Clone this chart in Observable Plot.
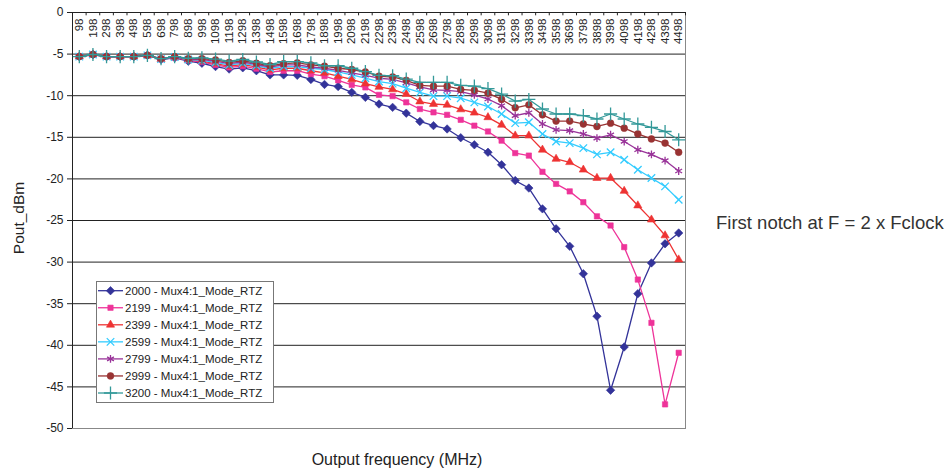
<!DOCTYPE html>
<html>
<head>
<meta charset="utf-8">
<script src="https://cdn.jsdelivr.net/npm/d3@7"></script>
<script src="https://cdn.jsdelivr.net/npm/@observablehq/plot@0.6"></script>
<style>
  html, body { margin: 0; padding: 0; background: #fff; }
  #chart { width: 948px; height: 472px; }
  svg { font-family: "Liberation Sans", Arial, Helvetica, sans-serif; }
</style>
</head>
<body>
<div id="chart"></div>
<script>
// ---- data ----
const freqLabels = ["98","198","298","398","498","598","698","798","898","998",
  "1098","1198","1298","1398","1498","1598","1698","1798","1898","1998",
  "2098","2198","2298","2398","2498","2598","2698","2798","2898","2998",
  "3098","3198","3298","3398","3498","3598","3698","3798","3898","3998",
  "4098","4198","4298","4398","4498"];

const yTicks = [0,-5,-10,-15,-20,-25,-30,-35,-40,-45,-50];

const seriesNames = [
  "2000 - Mux4:1_Mode_RTZ",
  "2199 - Mux4:1_Mode_RTZ",
  "2399 - Mux4:1_Mode_RTZ",
  "2599 - Mux4:1_Mode_RTZ",
  "2799 - Mux4:1_Mode_RTZ",
  "2999 - Mux4:1_Mode_RTZ",
  "3200 - Mux4:1_Mode_RTZ"
];
const seriesColors = ["#333399","#EE3399","#EE3333","#33CCFF","#993399","#993333","#339999"];
const seriesSymbols = ["diamond2","square2","triangle2","times","asterisk","circle","plus"];

const s2000 = [-5.3,-5.05,-5.3,-5.3,-5.3,-5.15,-5.65,-5.45,-5.85,-6.1,
  -6.5,-6.8,-6.65,-7.0,-7.5,-7.5,-7.55,-8.05,-8.65,-8.9,
  -9.6,-10.2,-11.0,-11.4,-12.1,-13.1,-13.6,-14.0,-15.05,-15.9,
  -16.8,-18.3,-20.2,-21.1,-23.6,-26.0,-28.1,-31.4,-36.5,-45.4,
  -40.2,-33.8,-30.1,-27.8,-26.5];
const s2199 = [-5.3,-5.05,-5.3,-5.3,-5.3,-5.15,-5.6,-5.4,-5.75,-5.95,
  -6.3,-6.6,-6.45,-6.75,-7.15,-7.0,-7.0,-7.4,-7.65,-8.15,
  -8.7,-9.0,-9.9,-10.05,-10.8,-11.6,-12.0,-12.3,-12.9,-13.6,
  -14.3,-15.4,-16.9,-17.2,-19.15,-20.6,-21.5,-22.8,-24.5,-25.6,
  -28.2,-32.1,-37.3,-47.1,-40.9];
const s2399 = [-5.3,-5.05,-5.3,-5.3,-5.3,-5.15,-5.6,-5.4,-5.7,-5.85,
  -6.15,-6.45,-6.25,-6.55,-6.9,-6.7,-6.7,-7.0,-7.25,-7.65,
  -8.05,-8.55,-8.95,-9.25,-9.8,-10.7,-11.0,-11.1,-11.65,-12.05,
  -12.6,-13.5,-14.8,-14.8,-16.5,-17.6,-18.0,-18.9,-19.9,-19.9,
  -21.45,-23.2,-24.9,-26.8,-29.7];
const s2599 = [-5.3,-5.05,-5.3,-5.3,-5.3,-5.15,-5.6,-5.35,-5.65,-5.75,
  -6.0,-6.3,-6.1,-6.4,-6.7,-6.5,-6.5,-6.7,-6.85,-7.15,
  -7.5,-7.9,-8.3,-8.55,-9.1,-9.6,-10.05,-10.05,-10.3,-10.8,
  -11.3,-12.2,-13.3,-13.2,-14.6,-15.5,-15.7,-16.3,-17.05,-16.8,
  -17.7,-18.9,-19.9,-20.9,-22.5];
const s2799 = [-5.3,-5.05,-5.3,-5.3,-5.3,-5.15,-5.55,-5.35,-5.6,-5.65,
  -5.85,-6.15,-5.95,-6.25,-6.55,-6.3,-6.3,-6.55,-6.7,-6.95,
  -7.25,-7.55,-7.9,-8.05,-8.45,-8.95,-9.3,-9.35,-9.5,-9.9,
  -10.4,-11.2,-12.4,-12.05,-13.4,-14.1,-14.2,-14.6,-15.1,-14.7,
  -15.5,-16.5,-17.05,-17.8,-19.05];
const s2999 = [-5.3,-5.05,-5.3,-5.3,-5.3,-5.15,-5.55,-5.3,-5.55,-5.55,
  -5.7,-6.0,-5.8,-6.1,-6.4,-6.15,-6.05,-6.3,-6.45,-6.7,
  -6.85,-7.15,-7.65,-7.75,-8.15,-8.75,-8.85,-8.85,-9.25,-9.35,
  -9.7,-10.45,-11.45,-11.1,-12.3,-13.05,-13.05,-13.4,-13.7,-13.3,
  -13.9,-14.6,-15.2,-15.7,-16.8];
const s3200 = [-5.3,-5.05,-5.3,-5.3,-5.3,-5.15,-5.55,-5.3,-5.5,-5.45,
  -5.6,-5.85,-5.65,-5.95,-6.25,-5.9,-5.9,-6.05,-6.4,-6.4,
  -6.7,-7.1,-7.55,-7.6,-8.0,-8.4,-8.4,-8.4,-8.75,-8.85,
  -9.15,-9.8,-10.65,-10.45,-11.6,-12.2,-12.2,-12.4,-12.8,-12.2,
  -12.8,-13.4,-13.8,-14.3,-15.3];

const seriesValues = [s2000, s2199, s2399, s2599, s2799, s2999, s3200];

const titleX = "Output frequency (MHz)";
const titleY = "Pout_dBm";
const note = "First notch at F = 2 x Fclock";

// ---- build table ----
const rows = [];
seriesNames.forEach((name, si) => {
  seriesValues[si].forEach((v, i) => rows.push({series: name, f: freqLabels[i], v}));
});

// ---- layout ----
const W = 948, H = 472;
const mL = 72, mR = W - 685, mT = 12, mB = H - 428;
const step = (W - mL - mR) / freqLabels.length;
const fontFam = '"Liberation Sans", Arial, Helvetica, sans-serif';

const strokeSym = new Set(["times","asterisk","plus"]);
const symbolSize = {diamond2: 3.8, square2: 3.4, triangle2: 3.9, times: 3.5, asterisk: 3.7, circle: 3.4, plus: 4.3};

const seriesMarks = [];
seriesNames.forEach((name, si) => {
  const data = rows.filter(d => d.series === name);
  seriesMarks.push(Plot.line(data, {x: "f", y: "v", stroke: seriesColors[si], strokeWidth: 1.3}));
});
seriesNames.forEach((name, si) => {
  const data = rows.filter(d => d.series === name);
  const sym = seriesSymbols[si];
  const isStroke = strokeSym.has(sym);
  seriesMarks.push(Plot.dot(data, {
    x: "f", y: "v", symbol: () => sym, r: symbolSize[sym],
    fill: isStroke ? "none" : seriesColors[si],
    stroke: seriesColors[si],
    strokeWidth: isStroke ? 1.3 : 0.6
  }));
});

const chart = Plot.plot({
  width: W, height: H,
  marginLeft: mL, marginRight: mR, marginTop: mT, marginBottom: mB,
  style: {fontFamily: fontFam, fontSize: "11px", background: "#fff", color: "#222", overflow: "visible"},
  x: {type: "band", domain: freqLabels, padding: 0, round: false, axis: null},
  y: {domain: [-50, 0], axis: null},
  symbol: {type: "identity"},
  marks: [
    // gridlines
    Plot.ruleY(yTicks.filter(t => t < 0 && t > -50), {stroke: "#222", strokeWidth: 1}),
    // plot area border (right/bottom)
    Plot.frame({stroke: "#888", strokeWidth: 1}),
    // top line at 0 dBm
    Plot.ruleY([0], {stroke: "#222", strokeWidth: 1}),
    // left axis line
    Plot.ruleX([freqLabels[0]], {y1: -50, y2: 0, dx: -step / 2, stroke: "#222", strokeWidth: 1}),
    // y axis ticks + labels
    Plot.axisY({ticks: yTicks, tickSize: 5, tickPadding: 4, tickFormat: d => String(d), label: null, fontSize: 12, stroke: "#222"}),
    // category boundary ticks on the top line
    Plot.ruleX(freqLabels, {y1: 0, y2: -0.4, dx: -step / 2, stroke: "#222"}),
    Plot.ruleX([freqLabels[freqLabels.length - 1]], {y1: 0, y2: -0.4, dx: step / 2, stroke: "#222"}),
    // category labels (rotated, under the top line)
    Plot.text(freqLabels, {x: d => d, y: 0, text: d => d, rotate: -90, textAnchor: "end", lineAnchor: "middle", dy: 6, fontSize: 11.5, fill: "#222"}),
    ...seriesMarks
  ]
});

document.getElementById("chart").appendChild(chart);

// ---- titles, note and legend ----
const svg = d3.select(chart);
svg.append("text")
  .attr("x", 397).attr("y", 465)
  .attr("text-anchor", "middle")
  .attr("font-size", 16).attr("fill", "#222")
  .attr("font-family", fontFam)
  .text(titleX);
svg.append("text")
  .attr("transform", "translate(24,218) rotate(-90)")
  .attr("text-anchor", "middle")
  .attr("font-size", 15.5).attr("fill", "#222")
  .attr("font-family", fontFam)
  .text(titleY);
svg.append("text")
  .attr("x", 716).attr("y", 229)
  .attr("text-anchor", "start")
  .attr("font-size", 18.5).attr("fill", "#333")
  .attr("font-family", fontFam)
  .text(note);

const lg = svg.append("g");
lg.append("rect")
  .attr("x", 96.5).attr("y", 281.5).attr("width", 177).attr("height", 121)
  .attr("fill", "#fff").attr("stroke", "#777");
const d3Sym = {diamond2: d3.symbolDiamond2, square2: d3.symbolSquare2, triangle2: d3.symbolTriangle2,
  times: d3.symbolTimes, asterisk: d3.symbolAsterisk, circle: d3.symbolCircle, plus: d3.symbolPlus};
seriesNames.forEach((name, i) => {
  const cy = 290.7 + i * 17.05;
  const sym = seriesSymbols[i];
  const isStroke = strokeSym.has(sym);
  lg.append("line").attr("x1", 98).attr("x2", 123).attr("y1", cy).attr("y2", cy)
    .attr("stroke", seriesColors[i]).attr("stroke-width", 1.3);
  const r = symbolSize[sym];
  lg.append("path")
    .attr("transform", `translate(110.5,${cy})`)
    .attr("d", d3.symbol(d3Sym[sym], Math.PI * r * r)())
    .attr("fill", isStroke ? "none" : seriesColors[i])
    .attr("stroke", seriesColors[i])
    .attr("stroke-width", isStroke ? 1.3 : 0.6);
  lg.append("text")
    .attr("x", 125).attr("y", cy).attr("dy", "0.35em")
    .attr("text-anchor", "start")
    .attr("font-size", 11.5).attr("fill", "#222")
    .attr("font-family", fontFam)
    .text(name);
});
</script>
</body>
</html>
